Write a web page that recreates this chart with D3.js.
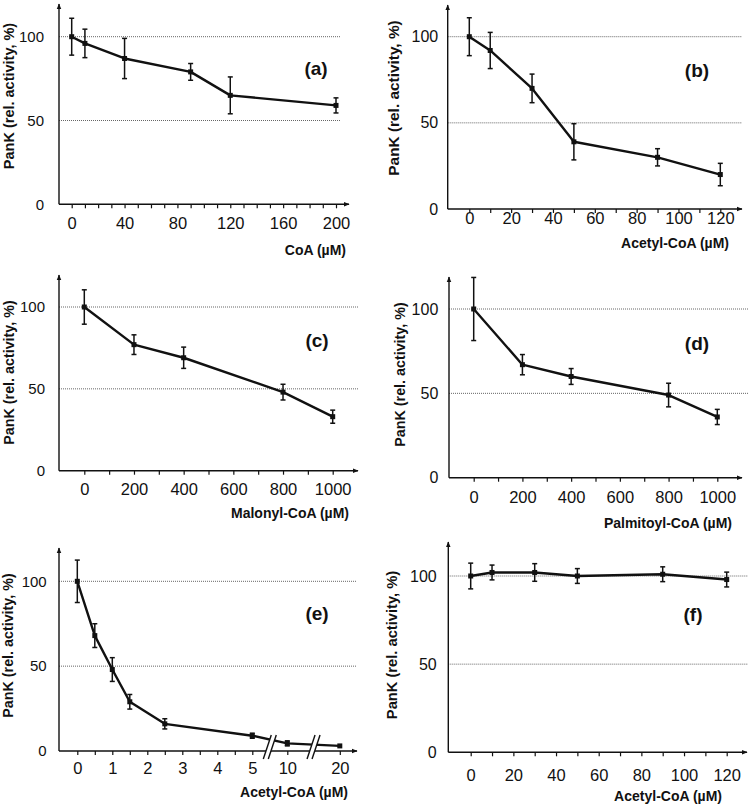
<!DOCTYPE html>
<html>
<head>
<meta charset="utf-8">
<script src="https://cdn.jsdelivr.net/npm/d3@7"></script>
<style>
  html, body { margin: 0; padding: 0; background: #fff; }
  svg { display: block; font-family: "Liberation Sans", Arial, sans-serif; }
</style>
</head>
<body>
<svg id="chart" width="749" height="806"></svg>
<script>
// Shared y values
const yTickValues = [0, 50, 100];
const gridValues = [50, 100];
const yLabel = 'PanK (rel. activity, %)';

// (a) CoA
const coaConc = [0, 10, 40, 90, 120, 200];
const coaAct = [100, 96, 87, 79, 65, 59];
const coaErr = [11, 8.5, 12, 5, 11, 4.5];
const coaTicks = [0, 40, 80, 120, 160, 200];

// (b) Acetyl-CoA
const acetylConc = [0, 10, 30, 50, 90, 120];
const acetylAct = [100, 92, 70, 39, 30, 20];
const acetylErr = [11, 10.5, 8.3, 10.5, 5, 6.5];
const acetylTicks = [0, 20, 40, 60, 80, 100, 120];

// (c) Malonyl-CoA
const malonylConc = [0, 200, 400, 800, 1000];
const malonylAct = [100, 77, 69, 48, 33];
const malonylErr = [10.5, 6, 6.5, 4.8, 4];
const malonylTicks = [0, 200, 400, 600, 800, 1000];

// (d) Palmitoyl-CoA
const palmConc = [0, 200, 400, 800, 1000];
const palmAct = [100, 67, 60, 49, 36];
const palmErr = [18.7, 6, 4.7, 7, 4.5];
const palmTicks = [0, 200, 400, 600, 800, 1000];

// (e) Acetyl-CoA, low range (broken axis)
const lowConc = [0, 0.5, 1, 1.5, 2.5, 5, 10, 20];
const lowAct = [100, 68, 48, 29, 16, 9, 4.5, 3];
const lowErr = [12.5, 7, 7, 4.3, 3, 1.5, 1.5, 0];
const lowTicks = [0, 1, 2, 3, 4, 5, 10, 20];
const lowBreaks = [7.5, 15];

// (f) Acetyl-CoA, second enzyme
const flatConc = [0, 10, 30, 50, 90, 120];
const flatAct = [100, 102, 102, 100, 101, 98];
const flatErr = [7.3, 4.2, 5, 4.2, 4.2, 4.2];
const flatTicks = [0, 20, 40, 60, 80, 100, 120];

const panels = [
  { letter: '(a)', xLabel: 'CoA (\u00b5M)', conc: coaConc, act: coaAct, err: coaErr, labels: coaTicks,
    minor: d3.range(0, 201, 10), xDomain: [0, 200], xRange: [71.7, 336],
    axisX: 59, y0: 204.3, y100: 36.7, top: 4, axisEnd: 349, gridEnd: 340,
    yFont: 15, yGap: 15, xFont: 16.5, xLabY: 222.7,
    yLab: [9, 96], yLabFont: 14.5, letPos: [316, 68], xLabPos: [346, 250] },
  { letter: '(b)', xLabel: 'Acetyl-CoA (\u00b5M)', conc: acetylConc, act: acetylAct, err: acetylErr, labels: acetylTicks,
    minor: d3.range(0, 121, 10), xDomain: [0, 120], xRange: [469.3, 720.3],
    axisX: 447.7, y0: 209, y100: 36.7, top: 5, axisEnd: 742, gridEnd: 742,
    yFont: 16, yGap: 9.5, xFont: 16.5, xLabY: 218.3,
    yLab: [393, 98], yLabFont: 15.4, letPos: [697, 70], xLabPos: [729, 243] },
  { letter: '(c)', xLabel: 'Malonyl-CoA (\u00b5M)', conc: malonylConc, act: malonylAct, err: malonylErr, labels: malonylTicks,
    minor: d3.range(0, 1001, 100), xDomain: [0, 1000], xRange: [84.3, 332.7],
    axisX: 59, y0: 470.7, y100: 307, top: 275, axisEnd: 358, gridEnd: 358,
    yFont: 15, yGap: 14, xFont: 16.5, xLabY: 489.3,
    yLab: [9, 372.5], yLabFont: 14.3, letPos: [317, 340], xLabPos: [349, 513] },
  { letter: '(d)', xLabel: 'Palmitoyl-CoA (\u00b5M)', conc: palmConc, act: palmAct, err: palmErr, labels: palmTicks,
    minor: d3.range(0, 1001, 100), xDomain: [0, 1000], xRange: [473.7, 717.3],
    axisX: 449, y0: 477.7, y100: 309, top: 277, axisEnd: 742, gridEnd: 749,
    yFont: 16, yGap: 10.7, xFont: 16.5, xLabY: 496.7,
    yLab: [400, 374.5], yLabFont: 14.3, letPos: [697, 343], xLabPos: [732, 523] },
  { letter: '(e)', xLabel: 'Acetyl-CoA (\u00b5M)', conc: lowConc, act: lowAct, err: lowErr, labels: lowTicks,
    minor: d3.range(0, 5.01, 0.5).concat([10, 20]), xDomain: [0, 5, 10, 20], xRange: [77.3, 252.3, 287.3, 339.8],
    breaks: lowBreaks,
    axisX: 59, y0: 751, y100: 581.3, top: 548, axisEnd: 357, gridEnd: 357,
    yFont: 15, yGap: 12.3, xFont: 16.5, xLabY: 768,
    yLab: [8, 645.5], yLabFont: 14.3, letPos: [317, 613], xLabPos: [348, 792] },
  { letter: '(f)', xLabel: 'Acetyl-CoA (\u00b5M)', conc: flatConc, act: flatAct, err: flatErr, labels: flatTicks,
    minor: d3.range(0, 121, 10), xDomain: [0, 120], xRange: [470.7, 726.7],
    axisX: 448.3, y0: 752.3, y100: 576, top: 542, axisEnd: 747, gridEnd: 748,
    yFont: 16, yGap: 11.6, xFont: 16.5, xLabY: 775,
    yLab: [392, 645], yLabFont: 14.7, letPos: [693, 614], xLabPos: [722, 796] }
];

const svg = d3.select('#chart');
const ink = '#111';

// Arrow head marker for the axes
svg.append('defs').append('marker')
  .attr('id', 'arrow')
  .attr('viewBox', '0 0 10 10')
  .attr('refX', 9)
  .attr('refY', 5)
  .attr('markerWidth', 6)
  .attr('markerHeight', 6)
  .attr('markerUnits', 'userSpaceOnUse')
  .attr('orient', 'auto')
  .append('path')
  .attr('d', 'M 0 1 L 10 5 L 0 9 z')
  .attr('fill', ink);

panels.forEach(p => {
  const g = svg.append('g');
  const x = d3.scaleLinear().domain(p.xDomain).range(p.xRange);
  const y = d3.scaleLinear().domain([0, 100]).range([p.y0, p.y100]);

  // Dotted reference lines at 50 and 100 %
  g.selectAll('.grid')
    .data(gridValues)
    .enter().append('line')
    .attr('x1', p.axisX)
    .attr('x2', p.gridEnd)
    .attr('y1', d => y(d))
    .attr('y2', d => y(d))
    .attr('stroke', '#666')
    .attr('stroke-width', 1)
    .attr('stroke-dasharray', '1,1');

  // Minor tick marks on x
  const tickAxis = g.append('g')
    .attr('transform', `translate(0,${p.y0})`)
    .call(d3.axisBottom(x).tickValues(p.minor).tickSize(4).tickSizeOuter(0).tickFormat(''));
  tickAxis.select('.domain').remove();
  tickAxis.selectAll('line').attr('stroke', ink).attr('stroke-width', 1.2);

  // Tick labels on x
  const labAxis = g.append('g')
    .attr('transform', `translate(0,${p.y0})`)
    .call(d3.axisBottom(x).tickValues(p.labels).tickSize(0)
      .tickPadding(p.xLabY - p.y0 - 0.352 * p.xFont).tickFormat(d3.format('d')));
  labAxis.select('.domain').remove();
  labAxis.selectAll('text').attr('font-size', p.xFont).attr('fill', ink).attr('font-family', null);

  // Tick labels on y
  const yAxis = g.append('g')
    .attr('transform', `translate(${p.axisX},0)`)
    .call(d3.axisLeft(y).tickValues(yTickValues).tickSize(0).tickPadding(p.yGap));
  yAxis.select('.domain').remove();
  yAxis.selectAll('text').attr('font-size', p.yFont).attr('fill', ink).attr('font-family', null);

  // Axis lines with arrow heads
  g.append('line')
    .attr('x1', p.axisX).attr('y1', p.y0)
    .attr('x2', p.axisEnd).attr('y2', p.y0)
    .attr('stroke', ink).attr('stroke-width', 1.4)
    .attr('marker-end', 'url(#arrow)');
  g.append('line')
    .attr('x1', p.axisX).attr('y1', p.y0)
    .attr('x2', p.axisX).attr('y2', p.top)
    .attr('stroke', ink).attr('stroke-width', 1.4)
    .attr('marker-end', 'url(#arrow)');

  const pts = p.conc.map((c, i) => ({ c, v: p.act[i], e: p.err[i] }));

  // Data line
  g.append('path')
    .datum(pts)
    .attr('fill', 'none')
    .attr('stroke', ink)
    .attr('stroke-width', 2.4)
    .attr('stroke-linejoin', 'round')
    .attr('d', d3.line().x(d => x(d.c)).y(d => y(d.v)));

  // Error bars
  const eb = g.selectAll('.err')
    .data(pts.filter(d => d.e > 0))
    .enter().append('g')
    .attr('stroke', ink)
    .attr('stroke-width', 1.5);
  eb.append('line')
    .attr('x1', d => x(d.c)).attr('x2', d => x(d.c))
    .attr('y1', d => y(d.v + d.e)).attr('y2', d => y(d.v - d.e));
  eb.append('line')
    .attr('x1', d => x(d.c) - 2.5).attr('x2', d => x(d.c) + 2.5)
    .attr('y1', d => y(d.v + d.e)).attr('y2', d => y(d.v + d.e));
  eb.append('line')
    .attr('x1', d => x(d.c) - 2.5).attr('x2', d => x(d.c) + 2.5)
    .attr('y1', d => y(d.v - d.e)).attr('y2', d => y(d.v - d.e));

  // Square markers
  g.selectAll('.pt')
    .data(pts)
    .enter().append('rect')
    .attr('x', d => x(d.c) - 2.5)
    .attr('y', d => y(d.v) - 2.5)
    .attr('width', 5)
    .attr('height', 5)
    .attr('fill', ink);

  // Axis break marks (double slash)
  if (p.breaks) {
    p.breaks.forEach(b => {
      const bx = x(b);
      const lo = p.y0 + 8, hi = p.y0 - 16;
      g.append('path')
        .attr('d', `M${bx - 6.5},${lo} L${bx + 1.5},${hi} L${bx + 6.5},${hi} L${bx - 1.5},${lo} Z`)
        .attr('fill', '#fff');
      [-2.5, 2.5].forEach(o => {
        g.append('line')
          .attr('x1', bx + o - 4).attr('y1', lo)
          .attr('x2', bx + o + 4).attr('y2', hi)
          .attr('stroke', ink).attr('stroke-width', 1.4);
      });
    });
  }

  // Axis titles and panel letter
  g.append('text')
    .attr('transform', `translate(${p.yLab[0]},${p.yLab[1]}) rotate(-90)`)
    .attr('text-anchor', 'middle')
    .attr('dominant-baseline', 'central')
    .attr('font-weight', 'bold')
    .attr('font-size', p.yLabFont)
    .attr('fill', ink)
    .text(yLabel);

  g.append('text')
    .attr('x', p.xLabPos[0])
    .attr('y', p.xLabPos[1])
    .attr('text-anchor', 'end')
    .attr('dominant-baseline', 'central')
    .attr('font-weight', 'bold')
    .attr('font-size', 14)
    .attr('fill', ink)
    .text(p.xLabel);

  g.append('text')
    .attr('x', p.letPos[0])
    .attr('y', p.letPos[1])
    .attr('text-anchor', 'middle')
    .attr('dominant-baseline', 'central')
    .attr('font-weight', 'bold')
    .attr('font-size', 19)
    .attr('fill', ink)
    .text(p.letter);
});
</script>
</body>
</html>
